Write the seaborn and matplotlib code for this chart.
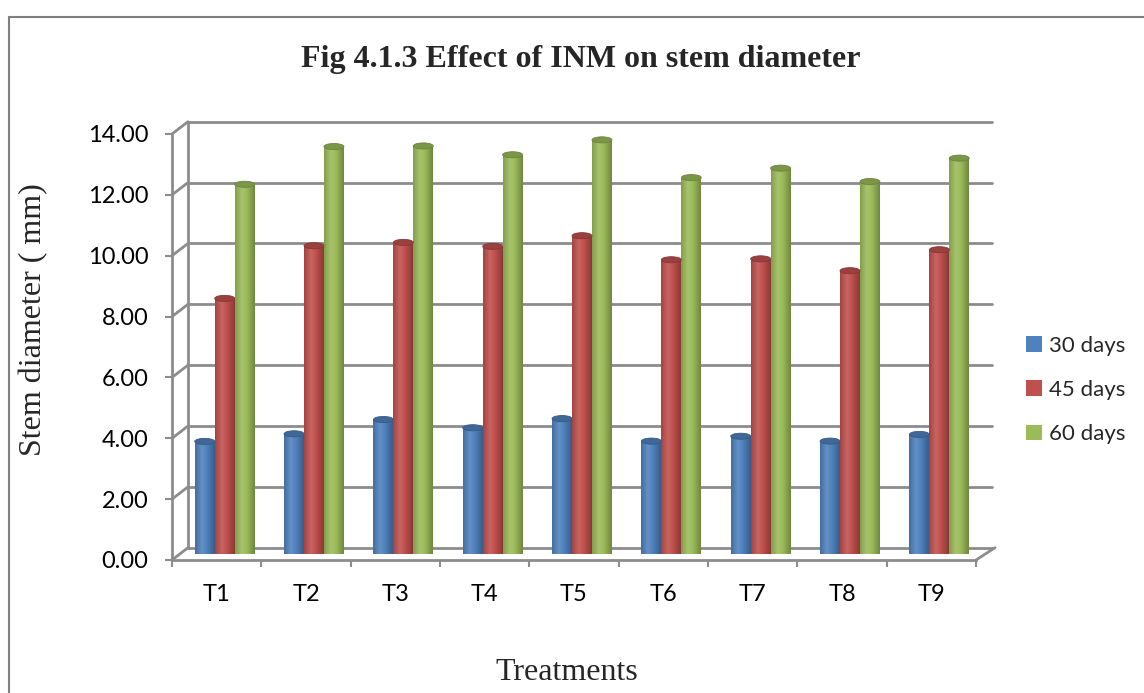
import matplotlib
matplotlib.use("Agg")
import matplotlib.pyplot as plt
import matplotlib.transforms as mtrans
import matplotlib.colors as mcolors
from matplotlib.lines import Line2D
from matplotlib.patches import Patch, Ellipse
import numpy as np
import seaborn as sns
import pandas as pd

treatments = ["T1", "T2", "T3", "T4", "T5", "T6", "T7", "T8", "T9"]
days30 = [3.70, 3.95, 4.42, 4.15, 4.45, 3.71, 3.87, 3.71, 3.93]
days45 = [8.40, 10.13, 10.24, 10.11, 10.46, 9.67, 9.70, 9.31, 10.00]
days60 = [12.15, 13.39, 13.41, 13.12, 13.61, 12.37, 12.68, 12.24, 13.01]
series_names = ["30 days", "45 days", "60 days"]
yticks = [0, 2, 4, 6, 8, 10, 12, 14]
colors = ["#4F81BD", "#C0504D", "#9BBB59"]

df = pd.DataFrame({
    "Treatment": treatments * 3,
    "Series": [series_names[0]] * 9 + [series_names[1]] * 9 + [series_names[2]] * 9,
    "Value": days30 + days45 + days60,
})

sns.set_theme(style="white")
plt.rcParams["font.family"] = ["Lato", "DejaVu Sans"]
serif = ["Liberation Serif", "DejaVu Serif"]

W, H = 1144, 693
fig = plt.figure(figsize=(W / 100, H / 100), dpi=100)
ax = fig.add_axes([172 / W, 1 - 560 / H, (976 - 172) / W, (560 - 134) / H])

sns.barplot(data=df, x="Treatment", y="Value", hue="Series", palette=colors,
            width=0.67, gap=0, ax=ax, legend=False, saturation=1, zorder=3)

gray = "#8C8C8C"
back_off = mtrans.ScaledTranslation(16 / 100, 12.3 / 100, fig.dpi_scale_trans)
mid_off = mtrans.ScaledTranslation(8 / 100, 6 / 100, fig.dpi_scale_trans)
tr_mid = ax.transData + mid_off

ax.set_xlim(-0.5, len(treatments) - 0.5)
ax.set_ylim(0, 14)


def shade_cmap(c):
    rgb = np.array(mcolors.to_rgb(c))
    dark = rgb * 0.72
    light = np.clip(rgb + (1 - rgb) * 0.12, 0, 1)
    return mcolors.LinearSegmentedColormap.from_list(
        "cyl", [(0, rgb * 0.85), (0.35, light), (0.6, rgb), (1.0, dark)])


grad = np.linspace(0, 1, 64).reshape(1, -1)
bars = list(ax.patches)
for p in bars:
    fc = p.get_facecolor()
    p.set_transform(tr_mid)
    p.set_edgecolor("none")
    p.set_clip_on(False)
    x, w, h = p.get_x(), p.get_width(), p.get_height()
    if h <= 0:
        continue
    im = ax.imshow(grad, cmap=shade_cmap(fc), extent=[x, x + w, 0, h],
                   aspect="auto", zorder=3.5, interpolation="bilinear")
    im.set_transform(tr_mid)
    im.set_clip_path(p)
    rgb = np.array(mcolors.to_rgb(fc))
    top = Ellipse((x + w / 2, h), w, 0.2, transform=tr_mid,
                  facecolor=rgb * 0.8, edgecolor=rgb * 0.7, lw=0.6, zorder=3.6, clip_on=False)
    ax.add_patch(top)

ax.set_xlim(-0.5, len(treatments) - 0.5)
ax.set_ylim(0, 14)

# back wall grid
for v in yticks:
    ax.plot([-0.5, len(treatments) - 0.5], [v, v], color=gray, lw=2,
            transform=ax.transData + back_off, clip_on=False, zorder=1)
ax.plot([-0.5, -0.5], [0, 14], color=gray, lw=2,
        transform=ax.transData + back_off, clip_on=False, zorder=1)

fig.canvas.draw()


def disp(x, y):
    return ax.transData.transform((x, y))


dx, dy = 16, 12.3
for v in yticks:
    x0, y0 = disp(-0.5, v)
    fig.add_artist(Line2D([x0, x0 + dx], [y0, y0 + dy], color=gray, lw=2,
                          transform=mtrans.IdentityTransform()))
x0, y0 = disp(len(treatments) - 0.5, 0)
fig.add_artist(Line2D([x0, x0 + 19], [y0, y0 + 12.3], color=gray, lw=2,
                      transform=mtrans.IdentityTransform()))

for s in ["top", "right"]:
    ax.spines[s].set_visible(False)
for s in ["left", "bottom"]:
    ax.spines[s].set_color(gray)
    ax.spines[s].set_linewidth(2)
    ax.spines[s].set_zorder(4)

ax.set_yticks(yticks)
ax.set_yticklabels([f"{v:.2f}" for v in yticks], fontsize=17, color="black")
ax.tick_params(axis="y", length=5, width=1.5, color=gray, pad=12, left=True)
ax.set_xticks(range(len(treatments)))
ax.set_xticklabels(treatments, fontsize=17, color="black")
ax.tick_params(axis="x", length=0, pad=17)
ax.set_xticks([i - 0.5 for i in range(len(treatments) + 1)], minor=True)
ax.tick_params(axis="x", which="minor", length=5, width=1.5, color=gray, bottom=True, direction="out")
ax.grid(False)
ax.set_facecolor("none")

ax.set_xlabel("")
ax.set_ylabel("Stem diameter ( mm)", fontsize=23, family=serif)
ax.yaxis.label.set_va("center")
ax.yaxis.set_label_coords(34 / W, 1 - 320 / H, transform=fig.transFigure)
fig.text(567 / W, 1 - 672 / H, "Treatments", fontsize=23, ha="center", va="center", family=serif)
fig.text(581 / W, 1 - 60 / H, "Fig 4.1.3 Effect of INM on stem diameter", fontsize=23,
         fontweight="bold", ha="center", va="center", family=serif)

handles = [Patch(facecolor=c, edgecolor="none", label=n) for c, n in zip(colors, series_names)]
fig.legend(handles=handles, loc="center left", bbox_to_anchor=(1026 / W, 1 - 390 / H),
           frameon=False, fontsize=16, handlelength=0.7, handleheight=0.7,
           handletextpad=0.35, labelspacing=1.1, borderpad=0, borderaxespad=0)

# chart border (top and left visible)
fig.add_artist(Line2D([9 / W, 9 / W], [0, 1 - 17 / H], color="#7F7F7F", lw=1.5,
                      transform=fig.transFigure))
fig.add_artist(Line2D([9 / W, 1], [1 - 17 / H, 1 - 17 / H], color="#7F7F7F", lw=1.5,
                      transform=fig.transFigure))

fig.savefig("out.png", dpi=100)
